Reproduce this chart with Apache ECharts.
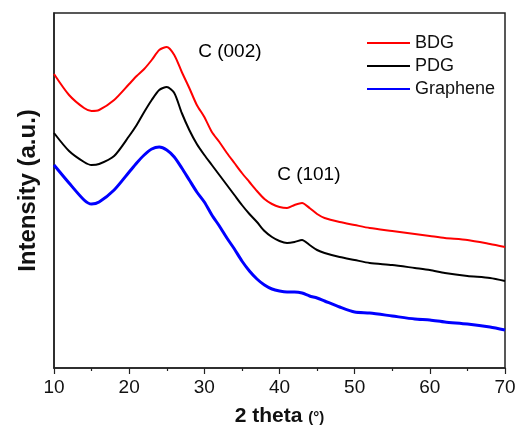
<!DOCTYPE html>
<html>
<head>
<meta charset="utf-8">
<script src="https://cdn.jsdelivr.net/npm/echarts@6/dist/echarts.min.js"></script>
<style>html,body{margin:0;padding:0;background:#fff}#c{width:520px;height:430px}</style>
</head>
<body>
<div id="c"></div>
<script>
const twoTheta = [10,12,14,15,16,18,20,21,22,23,24,25,26,27,28,29,30,31,32,33,34,35,36,37,38,39,40,41,42,43,44,45,46,48,50,52,55,58,60,62,65,68,70];
const bdg = [294,273,260,257,258,268,284,292,299,308,318,321,313,296,280,263,251,236,226,215,205,195,186,177,169,164,161,160,163,165,160,154,150,146,143,140,137,134,132,130,128,124,121];
const pdg = [235,217,206,203,204,212,232,243,256,268,278,281,275,255,238,224,213,203,193,183,173,163,154,146,137,131,127,125,126,128,123,118,115,111,108,105,103,100,98,95,92,90,87];
const graphene = [203,185,168,164,166,178,196,205,213,219,221,218,211,200,188,176,166,153,142,130,119,107,97,89,83,79,77,76,76,75,72,70,67,61,56,55,52,49,48,46,44,41,38];
const seriesNames = ['BDG','PDG','Graphene'];
const xTicks = [10,20,30,40,50,60,70];
const peakLabels = [{name:'C (002)', x:33.4, y:316},{name:'C (101)', x:43.9, y:193}];

const font = 'Liberation Sans, Arial, sans-serif';
const pair = arr => twoTheta.map((t,i)=>[t,arr[i]]);
const chart = echarts.init(document.getElementById('c'), null, {renderer:'canvas'});
chart.setOption({
  animation:false,
  backgroundColor:'#fff',
  grid:{left:54,right:15,top:13,bottom:62,outerBoundsMode:'none',containLabel:false,show:true,borderColor:'#222',borderWidth:1.5,backgroundColor:'transparent'},
  legend:{
    data:seriesNames, orient:'vertical', left:362, top:29, itemWidth:43, itemHeight:2, itemGap:5, icon:'rect',
    textStyle:{fontFamily:font,fontSize:18,color:'#111',padding:[0,0,0,0]}
  },
  xAxis:{
    type:'value', min:xTicks[0], max:xTicks[xTicks.length-1], interval:10,
    name:'{a|2 theta }{b|(°)}', nameLocation:'middle', nameGap:38,
    nameTextStyle:{rich:{a:{fontFamily:font,fontSize:21,fontWeight:'bold',color:'#111'},b:{fontFamily:font,fontSize:15,fontWeight:'bold',color:'#111',padding:[3,0,0,0]}}},
    axisLine:{show:true,onZero:false,lineStyle:{color:'#222',width:1.5}},
    axisTick:{show:true,inside:false,length:6,lineStyle:{color:'#222',width:1.2}},
    minorTick:{show:true,splitNumber:2,length:3,lineStyle:{color:'#222',width:1.2}},
    axisLabel:{fontFamily:font,fontSize:19,color:'#111',margin:10},
    splitLine:{show:false}
  },
  yAxis:{
    type:'value', min:0, max:355,
    name:'Intensity (a.u.)', nameLocation:'middle', nameGap:14,
    nameTextStyle:{fontFamily:font,fontSize:24,fontWeight:'bold',color:'#111'},
    axisLine:{show:true,lineStyle:{color:'#222',width:1.5}},
    axisTick:{show:false}, axisLabel:{show:false}, splitLine:{show:false}
  },
  series:[
    {name:'BDG',type:'line',data:pair(bdg),showSymbol:false,smooth:0.25,lineStyle:{color:'#ff0000',width:2},itemStyle:{color:'#ff0000'}},
    {name:'PDG',type:'line',data:pair(pdg),showSymbol:false,smooth:0.25,lineStyle:{color:'#000000',width:2},itemStyle:{color:'#000000'}},
    {name:'Graphene',type:'line',data:pair(graphene),showSymbol:false,smooth:0.25,lineStyle:{color:'#0000ff',width:3},itemStyle:{color:'#0000ff'}},
    {name:'peaks',type:'scatter',symbolSize:1,silent:true,itemStyle:{color:'rgba(0,0,0,0)'},
     data:peakLabels.map(p=>({name:p.name,value:[p.x,p.y]})),
     label:{show:true,position:'inside',formatter:'{b}',fontFamily:font,fontSize:19,color:'#000',opacity:1,textBorderWidth:0}}
  ]
});
</script>
</body>
</html>
